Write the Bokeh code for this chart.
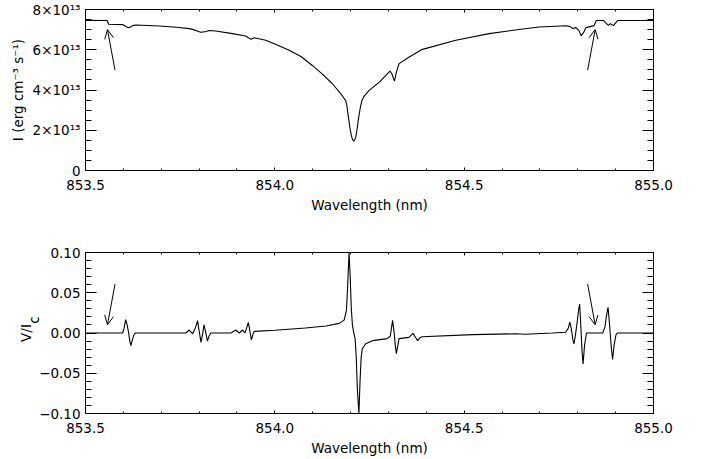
import math
from bokeh.plotting import figure
from bokeh.models import (Range1d, FixedTicker, LinearAxis, CustomJSTickFormatter,
                          Arrow, OpenHead, ColumnDataSource)
from bokeh.layouts import column
from bokeh.embed import file_html
from bokeh.resources import INLINE

# ---------------- data ----------------
# Top panel: intensity profile, wavelength (nm) and I (units of 1e13 erg cm^-3 s^-1)
wl_top = [853.500, 853.557, 853.561, 853.598, 853.606, 853.612, 853.618, 853.624, 853.633,
          853.695, 853.740, 853.774, 853.785, 853.795, 853.804, 853.812, 853.818, 853.827,
          853.844, 853.888, 853.923, 853.930, 853.937, 853.945, 853.976, 854.000, 854.038,
          854.070, 854.099, 854.125, 854.152, 854.174, 854.187, 854.190, 854.194, 854.198,
          854.202, 854.205, 854.208, 854.211, 854.214, 854.218, 854.220, 854.223, 854.226,
          854.230, 854.236, 854.249, 854.276, 854.304, 854.309, 854.316, 854.321, 854.328,
          854.355, 854.390, 854.478, 854.566, 854.645, 854.698, 854.770, 854.780, 854.786,
          854.795, 854.803, 854.809, 854.815, 854.822, 854.843, 854.849, 854.868, 854.876,
          854.881, 854.886, 854.890, 854.894, 854.905, 855.000]
i_top_e13 = [7.46, 7.45, 7.27, 7.25, 7.17, 7.10, 7.11, 7.20, 7.23,
             7.18, 7.12, 7.05, 7.00, 6.93, 6.87, 6.89, 6.91, 6.96,
             6.93, 6.80, 6.68, 6.60, 6.52, 6.60, 6.47, 6.28, 5.97,
             5.65, 5.22, 4.80, 4.31, 3.82, 3.48, 3.25, 2.70, 2.15,
             1.75, 1.55, 1.46, 1.52, 1.68, 2.15, 2.45, 2.82, 3.15,
             3.48, 3.70, 3.98, 4.39, 4.94, 4.81, 4.44, 4.89, 5.31,
             5.64, 6.02, 6.47, 6.80, 7.01, 7.13, 7.19, 7.15, 7.06,
             7.10, 6.95, 6.70, 6.85, 7.10, 7.20, 7.45, 7.45, 7.30,
             7.21, 7.30, 7.24, 7.20, 7.45, 7.45]
I_UNIT = 1e13

# Bottom panel: circular polarisation V/Ic
wl_bot = [853.500, 853.598, 853.602, 853.606, 853.610, 853.614, 853.617, 853.620, 853.624,
          853.629, 853.633, 853.765, 853.774, 853.783, 853.790, 853.796, 853.800, 853.805,
          853.809, 853.813, 853.817, 853.822, 853.826, 853.831, 853.884, 853.897, 853.906,
          853.915, 853.921, 853.926, 853.930, 853.934, 853.938, 853.942, 853.945, 854.000,
          854.081, 854.135, 854.170, 854.183, 854.189, 854.192, 854.196, 854.199, 854.202,
          854.205, 854.209, 854.212, 854.215, 854.218, 854.222, 854.225, 854.228, 854.231,
          854.240, 854.258, 854.297, 854.305, 854.308, 854.311, 854.315, 854.318, 854.321,
          854.325, 854.328, 854.354, 854.365, 854.371, 854.377, 854.383, 854.389, 854.522,
          854.636, 854.660, 854.733, 854.768, 854.775, 854.779, 854.783, 854.787, 854.790,
          854.794, 854.798, 854.802, 854.805, 854.808, 854.811, 854.814, 854.818, 854.823,
          854.866, 854.872, 854.876, 854.880, 854.884, 854.888, 854.892, 854.896, 854.901,
          854.905, 855.000]
v_bot = [0.0, 0.0, 0.006, 0.0165, 0.010, 0.0, -0.010, -0.0157, -0.008,
         -0.001, 0.0, 0.0, 0.0037, -0.001, 0.006, 0.0153, 0.003, -0.0116,
         -0.002, 0.010, 0.002, -0.010, -0.004, 0.0, 0.0, 0.0037, 0.0,
         0.0037, 0.0, 0.007, 0.0132, 0.003, -0.0087, -0.002, 0.002, 0.0035,
         0.0062, 0.0087, 0.012, 0.016, 0.0277, 0.055, 0.100, 0.070, 0.030,
         0.0094, -0.001, -0.007, -0.030, -0.070, -0.100, -0.060, -0.030, -0.0195,
         -0.0133, -0.0095, -0.007, -0.0037, 0.006, 0.0157, 0.001, -0.015, -0.0257,
         -0.015, -0.007, -0.0054, -0.0005, -0.005, -0.0095, -0.006, -0.0046, -0.002,
         -0.001, -0.0015, 0.0, 0.001, 0.006, 0.0135, 0.005, -0.008, -0.0137,
         -0.002, 0.012, 0.028, 0.036, 0.010, -0.020, -0.0385, -0.015, 0.0,
         0.0, 0.008, 0.022, 0.0318, 0.010, -0.015, -0.033, -0.015, -0.002,
         0.0, 0.0]

# Arrows (start -> tip) for each panel
arrow_x_start = [853.578, 854.826]
arrow_x_end = [853.558, 854.846]
arrow_top_y_start_e13 = [4.98, 4.98]
arrow_top_y_end_e13 = [7.00, 7.00]
arrow_bot_y_start = [0.0607, 0.0607]
arrow_bot_y_end = [0.0103, 0.0103]

# Ticks
x_major = [853.5, 854.0, 854.5, 855.0]
x_minor = [round(853.5 + 0.1 * k, 1) for k in range(16)]
ytop_major = [0, 2e13, 4e13, 6e13, 8e13]
ytop_minor = [0.5e13 * k for k in range(17)]
ybot_major = [-0.10, -0.05, 0.0, 0.05, 0.10]
ybot_minor = [round(-0.10 + 0.01 * k, 2) for k in range(21)]

# ---------------- styling ----------------
FONT = "DejaVu Sans"
FS = "13.5px"
NBSP = "\u00a0"

x_fmt = CustomJSTickFormatter(code="return tick.toFixed(1);")
blank_fmt = CustomJSTickFormatter(code="return '';")
ytop_fmt = CustomJSTickFormatter(code="if (Math.abs(tick) < 1) { return '0'; } return (tick/1e13).toFixed(0) + '×10¹³';")
ybot_fmt = CustomJSTickFormatter(code="var s = Math.abs(tick).toFixed(2); return (tick < -1e-9 ? '−' : '') + s;")


def style_axis(ax, major, minor, tin, tmin, fmt, labels=True):
    ax.ticker = FixedTicker(ticks=major, minor_ticks=minor)
    ax.formatter = fmt
    ax.major_tick_in = tin
    ax.major_tick_out = 0
    ax.minor_tick_in = tmin
    ax.minor_tick_out = 0
    ax.axis_line_color = "black"
    ax.major_tick_line_color = "black"
    ax.minor_tick_line_color = "black"
    ax.major_label_text_font = FONT
    ax.major_label_text_font_size = FS
    ax.major_label_text_color = "black"
    ax.axis_label_text_font = FONT
    ax.axis_label_text_font_size = FS
    ax.axis_label_text_font_style = "normal"
    ax.axis_label_text_color = "black"
    if not labels:
        ax.major_label_standoff = 0


def make_fig(yr, ymaj, ymin, yfmt, top, bottom, height_frame):
    p = figure(frame_width=568, frame_height=height_frame,
               x_range=Range1d(853.5, 855.0), y_range=yr,
               output_backend="svg", toolbar_location=None,
               min_border_left=85, min_border_right=30,
               min_border_top=top, min_border_bottom=bottom,
               background_fill_color="white", border_fill_color="white")
    p.grid.visible = False
    p.outline_line_color = "black"
    p.outline_line_width = 1
    style_axis(p.xaxis[0], x_major, x_minor, 3, 2, x_fmt)
    style_axis(p.yaxis[0], ymaj, ymin, 11, 6, yfmt)
    p.xaxis[0].axis_label = "Wavelength (nm)"
    p.xaxis[0].major_label_standoff = 9
    p.xaxis[0].axis_label_standoff = 4
    p.yaxis[0].major_label_standoff = 5
    ax_top = LinearAxis()
    style_axis(ax_top, x_major, x_minor, 3, 2, blank_fmt, labels=False)
    p.add_layout(ax_top, "above")
    ax_r = LinearAxis()
    style_axis(ax_r, ymaj, ymin, 11, 6, blank_fmt, labels=False)
    p.add_layout(ax_r, "right")
    return p


# ---------- top panel ----------
p1 = make_fig(Range1d(0, 8e13), ytop_major, ytop_minor, ytop_fmt, 13, 55, 161)
p1.yaxis[0].axis_label = "I (erg cm⁻³ s⁻¹)"
p1.yaxis[0].axis_label_standoff = 4
src_top = ColumnDataSource(dict(x=wl_top, y=[v * I_UNIT for v in i_top_e13]))
p1.line("x", "y", source=src_top, line_color="black", line_width=1.1)
for xs, xe, ys, ye in zip(arrow_x_start, arrow_x_end, arrow_top_y_start_e13, arrow_top_y_end_e13):
    p1.add_layout(Arrow(end=OpenHead(size=9, line_width=1, line_color="black"),
                        x_start=xs, y_start=ys * I_UNIT, x_end=xe, y_end=ye * I_UNIT,
                        line_width=1, line_color="black"))

# ---------- bottom panel ----------
p2 = make_fig(Range1d(-0.1, 0.1), ybot_major, ybot_minor, ybot_fmt, 27, 46, 161)
# axis title V/Ic: second, tightly spaced line acts as the subscript "c"
p2.yaxis[0].axis_label = "V/I\n" + NBSP * 6 + "c"
p2.yaxis[0].axis_label_text_line_height = 0.5
p2.yaxis[0].axis_label_standoff = -6
src_bot = ColumnDataSource(dict(x=wl_bot, y=v_bot))
p2.line("x", "y", source=src_bot, line_color="black", line_width=1.1)
for xs, xe, ys, ye in zip(arrow_x_start, arrow_x_end, arrow_bot_y_start, arrow_bot_y_end):
    p2.add_layout(Arrow(end=OpenHead(size=9, line_width=1, line_color="black"),
                        x_start=xs, y_start=ys, x_end=xe, y_end=ye,
                        line_width=1, line_color="black"))

layout = column(p1, p2, styles={"margin-top": "-4px", "margin-bottom": "-4px"})
open("out.html", "w").write(file_html(layout, INLINE))
